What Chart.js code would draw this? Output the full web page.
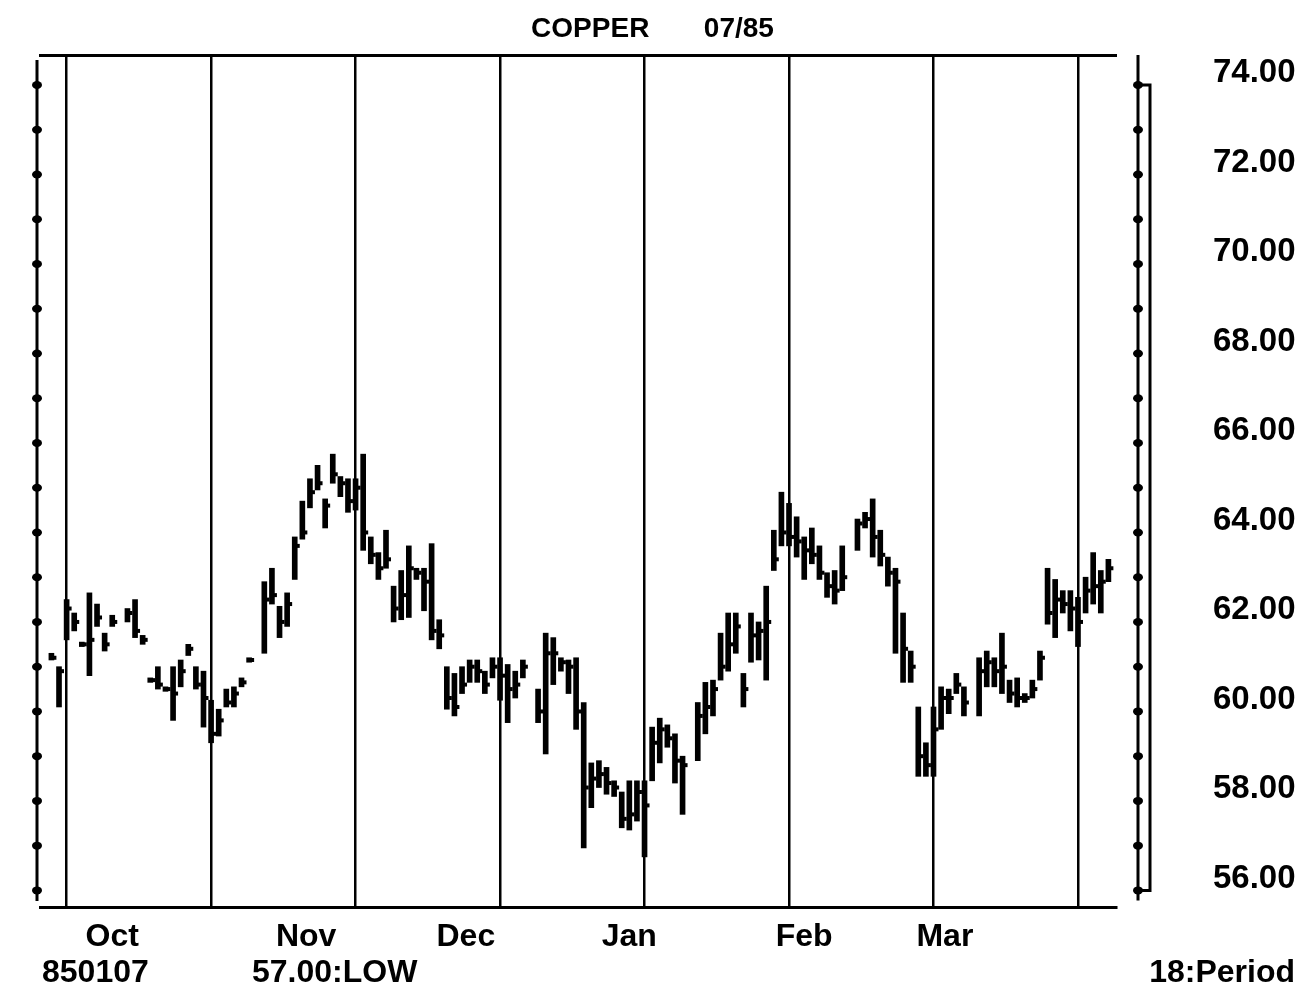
<!DOCTYPE html>
<html>
<head>
<meta charset="utf-8">
<script src="https://cdn.jsdelivr.net/npm/chart.js@4.4.1/dist/chart.umd.min.js"></script>
<style>
  body { margin: 0; background: #fff; }
  #wrap { position: relative; width: 1305px; height: 1000px; }
  .note { position: absolute; top: 955px; font-family: 'Liberation Sans', Arial, sans-serif;
          font-weight: bold; font-size: 32px; line-height: 32px; color: #000; white-space: pre; }
</style>
</head>
<body>
<div id="wrap">
  <canvas id="chart"></canvas>
  <div class="note" style="left:42px">850107</div>
  <div class="note" style="left:252px">57.00:LOW</div>
  <div class="note" style="right:10px">18:Period</div>
</div>
<script>
// trading day index (0 = first day of Oct), high, low, close
const days = [-2, -1, 0, 1, 2, 3, 4, 5, 6, 8, 9, 10, 11, 12, 13, 14, 15, 16, 17, 18,
  19, 20, 21, 22, 23, 24, 26, 27, 28, 29, 30, 31, 32, 33, 34, 35, 36, 37,
  38, 39, 40, 41, 42, 43, 44, 45, 46, 47, 48, 49, 50, 51, 52, 53, 54, 55, 56,
  57, 58, 59, 60, 62, 63, 64, 65, 66, 67, 68, 69, 70, 71, 72, 73, 74, 75,
  76, 77, 78, 79, 80, 81, 83, 84, 85, 86, 87, 88, 89, 90, 91, 92, 93, 94,
  95, 96, 97, 98, 99, 100, 101, 102, 104, 105, 106, 107, 108, 109, 110, 111, 112, 113,
  114, 115, 116, 117, 118, 120, 121, 122, 123, 124, 125, 126, 127, 128, 129, 130, 131, 132, 133, 134, 135, 136, 137];

const highs = [61.3, 61.0, 62.5, 62.2, 61.55, 62.65, 62.4, 61.75, 62.15, 62.3, 62.5, 61.7, 60.75, 61.0, 60.55, 61.0, 61.15, 61.5, 61.0, 60.9,
  60.25, 60.05, 60.5, 60.55, 60.75, 61.2, 62.9, 63.2, 62.35, 62.65, 63.9, 64.7, 65.2, 65.5, 64.75, 65.75, 65.25, 65.2,
  65.2, 65.75, 63.9, 63.55, 64.05, 62.8, 63.15, 63.7, 63.2, 63.2, 63.75, 62.05, 61.0, 60.85, 61.0, 61.15, 61.15, 60.9, 61.2,
  61.2, 61.05, 60.9, 61.15, 60.5, 61.75, 61.65, 61.2, 61.15, 61.2, 60.2, 58.85, 58.9, 58.75, 58.45, 58.2, 58.45, 58.45,
  58.45, 59.65, 59.85, 59.7, 59.5, 59.0, 60.2, 60.65, 60.7, 61.75, 62.2, 62.2, 60.85, 62.2, 62.0, 62.8, 64.05, 64.9,
  64.65, 64.35, 63.9, 64.1, 63.7, 63.1, 63.15, 63.7, 64.3, 64.45, 64.75, 64.05, 63.45, 63.2, 62.2, 61.35, 60.1, 59.3,
  60.1, 60.55, 60.5, 60.85, 60.55, 61.2, 61.35, 61.2, 61.75, 60.7, 60.75, 60.4, 60.7, 61.35, 63.2, 62.95, 62.7, 62.7, 62.55, 63.0, 63.55, 63.15, 63.4];

const lows = [61.15, 60.1, 61.6, 61.8, 61.45, 60.8, 61.9, 61.35, 61.9, 62.0, 61.65, 61.5, 60.65, 60.5, 60.45, 59.8, 60.55, 61.25, 60.5, 59.65,
  59.3, 59.45, 60.1, 60.1, 60.55, 61.1, 61.3, 62.4, 61.65, 61.9, 62.95, 63.85, 64.55, 64.95, 64.1, 65.1, 64.8, 64.45,
  64.5, 63.6, 63.3, 62.95, 63.2, 62.0, 62.05, 62.1, 62.95, 62.25, 61.6, 61.4, 60.05, 59.9, 60.4, 60.65, 60.65, 60.4, 60.75,
  60.25, 59.75, 60.3, 60.75, 59.75, 59.05, 60.6, 60.9, 60.4, 59.6, 56.95, 57.85, 58.3, 58.15, 58.1, 57.4, 57.35, 57.55,
  56.75, 58.45, 58.85, 59.2, 58.4, 57.7, 58.9, 59.5, 59.9, 60.7, 60.9, 61.3, 60.1, 61.1, 61.15, 60.7, 63.15, 63.7,
  63.7, 63.45, 62.95, 63.3, 62.95, 62.55, 62.4, 62.7, 63.6, 64.1, 63.45, 63.25, 62.8, 61.3, 60.65, 60.65, 58.55, 58.55,
  58.55, 59.6, 59.95, 60.4, 59.9, 59.9, 60.55, 60.55, 60.4, 60.2, 60.1, 60.2, 60.3, 60.7, 61.95, 61.65, 62.2, 61.8, 61.45, 62.2, 62.4, 62.2, 62.9];

const closes = [61.2, 60.9, 62.3, 62.0, 61.5, 61.6, 62.1, 61.5, 62.0, 62.2, 61.8, 61.6, 60.7, 60.6, 60.5, 60.4, 60.9, 61.4, 60.6, 60.3,
  59.5, 59.8, 60.2, 60.4, 60.65, 61.15, 62.5, 62.6, 62.0, 62.4, 63.7, 64.0, 64.9, 65.1, 64.6, 65.3, 65.1, 64.7,
  65.0, 64.0, 63.5, 63.2, 63.4, 62.3, 62.6, 63.2, 63.1, 62.9, 61.8, 61.7, 60.3, 60.1, 60.6, 61.0, 60.9, 60.6, 61.0,
  60.8, 60.5, 60.6, 61.0, 60.0, 61.3, 61.3, 61.1, 61.0, 60.0, 58.3, 58.5, 58.6, 58.4, 58.3, 57.6, 57.7, 58.2,
  57.9, 59.3, 59.6, 59.4, 58.9, 58.8, 59.9, 60.1, 60.5, 61.0, 61.5, 61.9, 60.5, 61.7, 61.8, 62.0, 63.4, 64.0,
  63.9, 63.8, 63.6, 63.5, 63.1, 62.8, 62.7, 63.0, 64.2, 64.3, 63.9, 63.5, 63.1, 62.9, 61.4, 61.0, 59.0, 58.8,
  59.6, 60.3, 60.3, 60.6, 60.2, 60.9, 61.1, 60.9, 61.0, 60.4, 60.3, 60.3, 60.5, 61.2, 62.2, 62.5, 62.4, 62.3, 62.0, 62.7, 62.8, 62.9, 63.2];

const monthStarts = [0, 19, 38, 57, 76, 95, 114, 133];
const monthNames = ['Oct', 'Nov', 'Dec', 'Jan', 'Feb', 'Mar'];
const monthLabelAt = [6, 31.5, 52.5, 74, 97, 115.5];
const priceTicks = [56, 58, 60, 62, 64, 66, 68, 70, 72, 74];

const FONT = "'Liberation Sans', Arial, sans-serif";

// no automatic label overhang padding, so the plot area stays where it belongs
function noPad(s) {
  s.paddingTop = 0; s.paddingBottom = 0; s.paddingLeft = 0; s.paddingRight = 0;
}

// left axis line, right bracket and the little dots at every price unit
const axisMarks = {
  id: 'axisMarks',
  afterDraw(chart) {
    const { ctx, chartArea } = chart;
    const y = chart.scales.y;
    const yTop = y.getPixelForValue(74), yBot = y.getPixelForValue(56);
    const lx = chartArea.left - 3;
    const rx1 = chartArea.right + 22, rx2 = chartArea.right + 34;
    ctx.save();
    ctx.strokeStyle = '#000';
    ctx.fillStyle = '#000';
    ctx.lineWidth = 3;
    ctx.beginPath();
    ctx.moveTo(lx, chartArea.top + 5);
    ctx.lineTo(lx, chartArea.bottom - 6);
    ctx.moveTo(rx1, chartArea.top);
    ctx.lineTo(rx1, yBot + 10);
    ctx.moveTo(rx1, yTop);
    ctx.lineTo(rx2, yTop);
    ctx.lineTo(rx2, yBot);
    ctx.lineTo(rx1, yBot);
    ctx.stroke();
    for (let v = 56; v <= 74; v++) {
      const py = y.getPixelForValue(v);
      [lx, rx1].forEach(px => {
        ctx.beginPath();
        ctx.ellipse(px, py, 5, 4, 0, 0, Math.PI * 2);
        ctx.fill();
      });
    }
    ctx.restore();
  }
};

new Chart(document.getElementById('chart'), {
  type: 'bar',
  data: {
    datasets: [
      {
        type: 'bar',
        data: days.map((d, i) => ({ x: d, y: [lows[i], highs[i]] })),
        backgroundColor: '#000',
        borderWidth: 0,
        barThickness: 5,
        xAxisID: 'x',
        yAxisID: 'y'
      },
      {
        type: 'line',
        data: days.map((d, i) => ({ x: d, y: closes[i] })),
        showLine: false,
        pointStyle: 'dash',
        pointRadius: 5,
        pointBorderWidth: 4,
        borderColor: '#000',
        xAxisID: 'x',
        yAxisID: 'y'
      }
    ]
  },
  options: {
    responsive: true,
    maintainAspectRatio: false,
    animation: false,
    layout: { padding: 0 },
    plugins: {
      legend: { display: false },
      tooltip: { enabled: false },
      title: {
        display: true,
        text: 'COPPER       07/85',
        color: '#000',
        font: { family: FONT, size: 28, weight: 'bold' },
        padding: { top: 12, bottom: 0 }
      }
    },
    scales: {
      x: {
        type: 'linear',
        position: 'bottom',
        min: -3.5,
        max: 138,
        offset: false,
        afterBuildTicks: s => { s.ticks = monthStarts.map(v => ({ value: v })); },
        afterFit: s => { s.height = 1; noPad(s); },
        ticks: { display: false },
        grid: { color: '#000', lineWidth: 2.5, drawTicks: false, offset: false },
        border: { display: true, color: '#000', width: 3 }
      },
      months: {
        type: 'linear',
        position: 'bottom',
        min: -3.5,
        max: 138,
        offset: false,
        afterBuildTicks: s => { s.ticks = monthLabelAt.map(v => ({ value: v })); },
        afterFit: s => { s.height = 92; noPad(s); },
        ticks: {
          callback: (v, i) => monthNames[i],
          color: '#000',
          font: { family: FONT, size: 32, weight: 'bold' },
          padding: 10,
          maxRotation: 0,
          autoSkip: false
        },
        grid: { display: false, drawTicks: false },
        border: { display: false }
      },
      xTop: {
        type: 'linear',
        position: 'top',
        min: -3.5,
        max: 138,
        afterFit: s => { s.height = 9.4; noPad(s); },
        ticks: { display: false },
        grid: { display: false, drawTicks: false },
        border: { display: true, color: '#000', width: 3 }
      },
      y: {
        position: 'right',
        min: 55.63,
        max: 74.67,
        afterBuildTicks: s => { s.ticks = priceTicks.map(v => ({ value: v })); },
        afterFit: s => { s.width = 189; noPad(s); },
        ticks: {
          callback: v => v.toFixed(2),
          color: '#000',
          font: { family: FONT, size: 33, weight: 'bold' },
          padding: 97,
          labelOffset: -12
        },
        grid: { display: false, drawTicks: false },
        border: { display: false }
      },
      yLeft: {
        position: 'left',
        min: 55.63,
        max: 74.67,
        afterFit: s => { s.width = 40; noPad(s); },
        ticks: { display: false },
        grid: { display: false, drawTicks: false },
        border: { display: false }
      }
    }
  },
  plugins: [axisMarks]
});
</script>
</body>
</html>
